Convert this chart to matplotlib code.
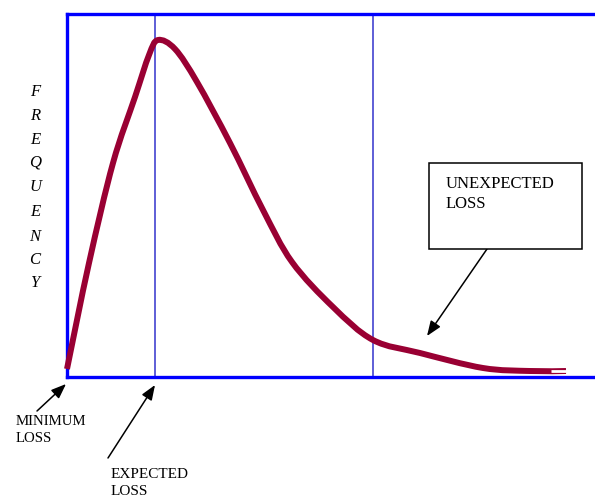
import matplotlib
matplotlib.use("Agg")
import matplotlib.pyplot as plt
from matplotlib.path import Path
from matplotlib.patches import PathPatch

# ---- data ----
loss = [0, 22, 46, 68, 82, 91, 108, 130, 163, 196, 225, 266, 306, 353, 416,
        463, 499]
frequency = [8, 114, 214, 280, 322, 337, 328, 295, 234, 167, 115, 70, 37, 24,
             9, 6, 6]
minimum_loss = 0
expected_loss = 88
unexpected_threshold = 306
ylabel_letters = list("FREQUENCY")
label_minimum = "MINIMUM\nLOSS"
label_expected = "EXPECTED\nLOSS"
label_unexpected = "UNEXPECTED\nLOSS"

W, H = 595, 501
fig = plt.figure(figsize=(W / 100, H / 100), dpi=100)

def fx(px):
    return px / W

def fy(py):
    return 1 - py / H

ax = fig.add_axes([fx(67), fy(377), fx(595) - fx(67), fy(14) - fy(377)])
ax.set_xlim(0, 528)
ax.set_ylim(0, 363)
ax.set_xticks([])
ax.set_yticks([])
for s in ("left", "top", "bottom"):
    ax.spines[s].set_color("#0000ff")
    ax.spines[s].set_linewidth(2.4)
ax.spines["right"].set_visible(False)

ax.axvline(expected_loss, color="#3333cc", lw=1.1, zorder=1)
ax.axvline(unexpected_threshold, color="#3333cc", lw=1.1, zorder=1)

# smooth curve through the read points (Catmull-Rom -> cubic Bezier segments)
pts = list(zip(loss, frequency))
verts = [pts[0]]
codes = [Path.MOVETO]
n = len(pts)
for i in range(n - 1):
    p0 = pts[i - 1] if i > 0 else pts[i]
    p1 = pts[i]
    p2 = pts[i + 1]
    p3 = pts[i + 2] if i + 2 < n else pts[i + 1]
    c1 = (p1[0] + (p2[0] - p0[0]) / 6, p1[1] + (p2[1] - p0[1]) / 6)
    c2 = (p2[0] - (p3[0] - p1[0]) / 6, p2[1] - (p3[1] - p1[1]) / 6)
    verts += [c1, c2, p2]
    codes += [Path.CURVE4] * 3
curve = PathPatch(Path(verts, codes), facecolor="none", edgecolor="#990033",
                  lw=4.3, capstyle="butt", joinstyle="round", zorder=3,
                  clip_on=False)
ax.add_patch(curve)
# small hollow end piece
ax.plot([loss[-1] - 15, loss[-1]], frequency[-2:], color="white", lw=2.0,
        solid_capstyle="butt", zorder=4, clip_on=False)

serif = ["Liberation Serif", "DejaVu Serif"]

# vertical FREQUENCY label
ys = [92, 116, 140, 163, 187, 212, 237, 260, 283]
for ch, py in zip(ylabel_letters, ys):
    fig.text(fx(35), fy(py), ch, family=serif, style="italic", fontsize=12,
             ha="center", va="center")

# annotations
fig.text(fx(16), fy(430), label_minimum, family=serif, fontsize=10.7,
         ha="left", va="center", linespacing=1.35)
fig.text(fx(111), fy(483), label_expected, family=serif, fontsize=11,
         ha="left", va="center", linespacing=1.35)

arrowprops = dict(arrowstyle="-|>,head_length=0.9,head_width=0.35",
                  color="black", lw=1.1, shrinkA=0, shrinkB=0)
ax.annotate("", xy=(minimum_loss - 1, -7), xycoords="data",
            xytext=(fx(37), fy(411)), textcoords="figure fraction",
            arrowprops=arrowprops, annotation_clip=False)
ax.annotate("", xy=(expected_loss, -8), xycoords="data",
            xytext=(fx(108), fy(458)), textcoords="figure fraction",
            arrowprops=arrowprops, annotation_clip=False)

# unexpected loss box
box = plt.Rectangle((fx(429), fy(249)), fx(582) - fx(429), fy(163) - fy(249),
                    transform=fig.transFigure, fill=True, facecolor="white",
                    edgecolor="black", lw=1.1, zorder=5)
fig.add_artist(box)
fig.text(fx(446), fy(194), label_unexpected, family=serif, fontsize=12,
         ha="left", va="center", linespacing=1.3, zorder=6)
ax.annotate("", xy=(fx(427), fy(336)), xycoords="figure fraction",
            xytext=(fx(487), fy(249)), textcoords="figure fraction",
            arrowprops=arrowprops, annotation_clip=False)

fig.savefig("out.png", dpi=100)
